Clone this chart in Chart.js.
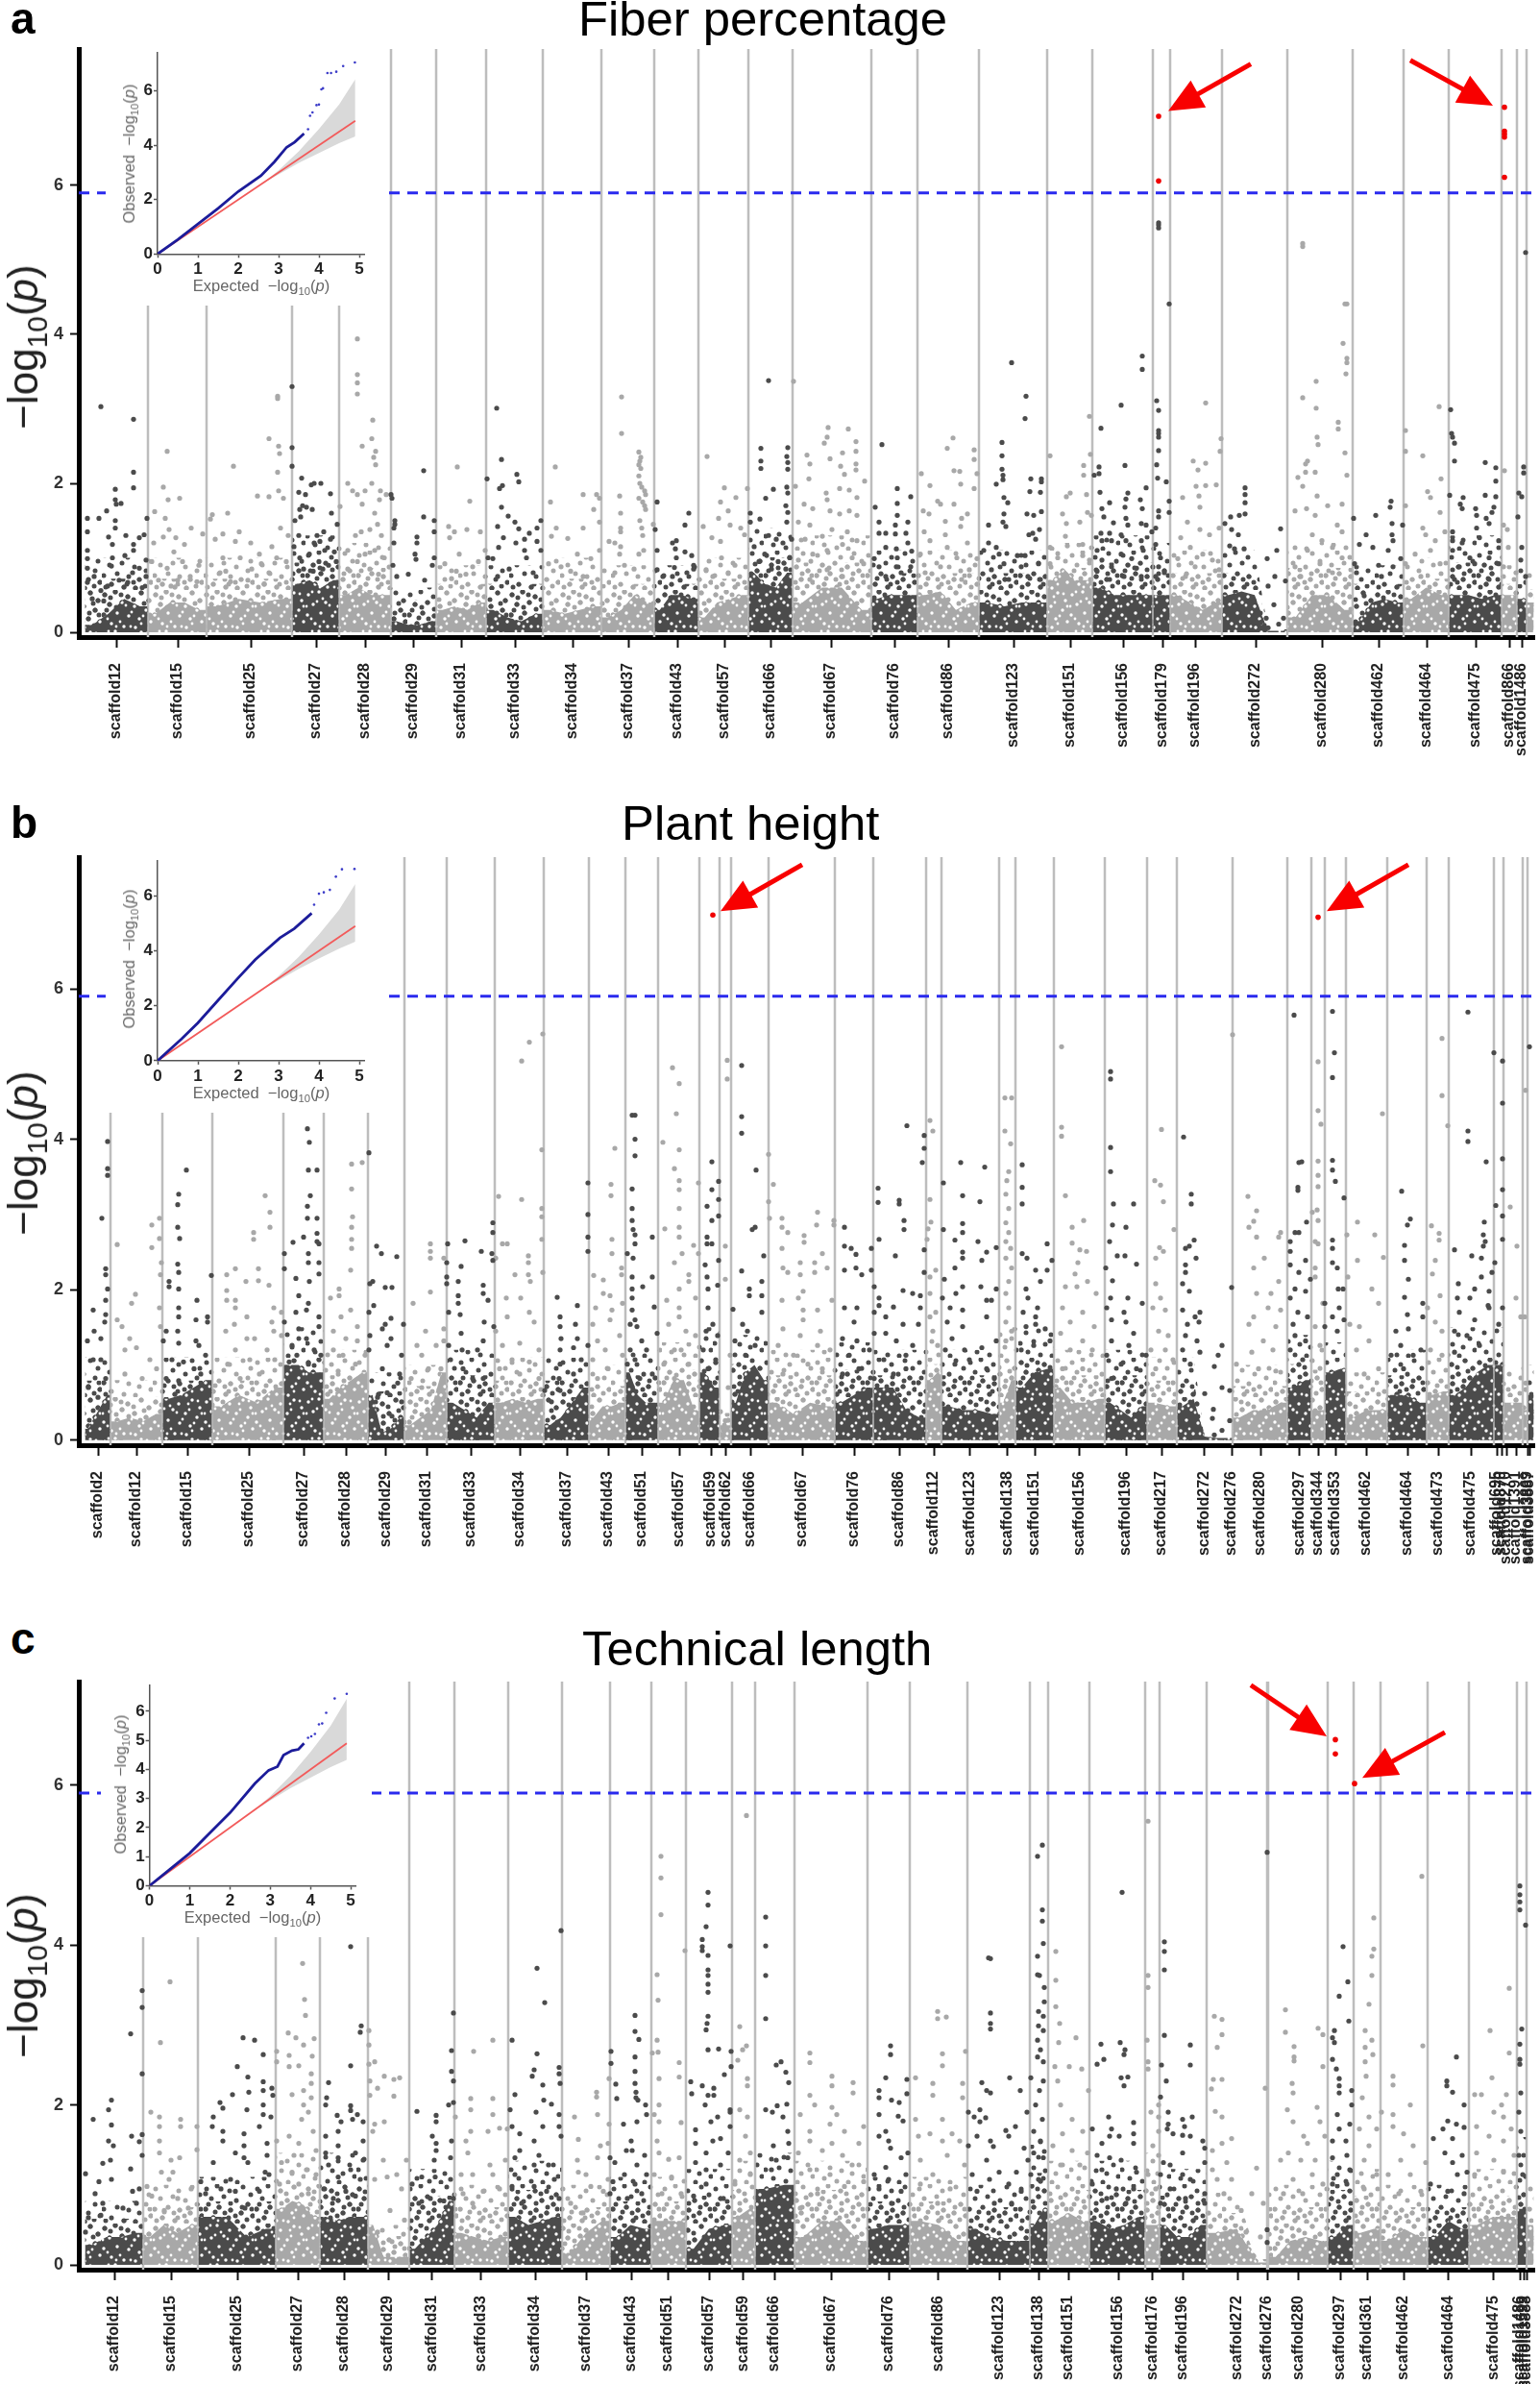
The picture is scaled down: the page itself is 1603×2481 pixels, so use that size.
<!DOCTYPE html>
<html>
<head>
<meta charset="utf-8">
<title>Manhattan plots</title>
<script src="https://cdn.jsdelivr.net/npm/chart.js@4"></script>
<style>
html, body { margin: 0; background: #fff; }
#page { position: relative; width: 1603px; height: 2481px; overflow: hidden; font-family: "Liberation Sans", Arial, sans-serif; }
#page canvas { position: absolute; }
.title { position: absolute; font-size: 50.8px; line-height: 50.8px; white-space: nowrap; color: #000; z-index: 3; }
.letter { position: absolute; left: 11px; font-size: 46px; line-height: 46px; font-weight: bold; z-index: 3; }
.ylab { position: absolute; font-size: 44px; line-height: 44px; white-space: nowrap; color: #222; transform: translate(-50%, -50%) rotate(-90deg); z-index: 3; }
.qq { position: absolute; font-size: 16.5px; line-height: 18px; white-space: nowrap; color: #666; transform: translate(-50%, -50%); z-index: 3; }
.qq.v { transform: translate(-50%, -50%) rotate(-90deg); }
sub { font-size: 68%; line-height: 0; }
</style>
</head>
<body>
<div id="page"></div>
<script>
// scaffold edges, shade (1 = dark), solid cloud height and loose cloud height per scaffold block
const edgesA = [88,154,215,304,353,407,454,506,565,626,681,727,779,825,907,955,1019,1090,1137,1200,1218,1272,1340,1408,1461,1508,1563,1579,1589,1597];
const shadeA = [1,0,0,1,0,1,0,1,0,0,1,0,1,0,1,0,1,0,1,1,0,1,0,1,0,1,0,1,0];
const cloudA = [[.1,.25,.45,.35],[.25,.4,.4,.3],[.35,.45,.4,.45],[.65,.7,.6,.7],[.5,.6,.5,.5],[.15,.1,.1,.15],[.3,.35,.3,.4],[.3,.2,.15,.25],[.3,.25,.3,.35],[.2,.3,.5,.4],[.3,.5,.5,.45],[.2,.4,.45,.5],[.8,.65,.6,.8],[.4,.6,.6,.3],[.45,.5,.5,.5],[.5,.55,.3,.4],[.4,.35,.4,.4],[.7,.85,.7,.7],[.6,.5,.5,.5],[.5],[.5,.4,.3,.4],[.5,.55,.5,.02,.02],[.2,.5,.5,.3],[.15,.4,.45,.4],[.45,.6,.5],[.5,.5,.45,.5],[.5],[.45],[.4]];
const looseA = [[1],[1],[1],[1.3],[1.2],[.6],[.9],[.9],[1],[.9],[.9],[1],[1.4],[1.3],[1.1],[1.1],[1.1],[1.2],[1.3],[1.2],[1.1],[1.1,1.1,1.1,.05,.05],[1.2],[.9],[1],[1.3],[.9],[.9],[.8]];
const tickPosA = [121,185,261,329,380,430,480,536,596,654,705,754,802,865,931,987,1055,1114,1169,1210,1244,1307,1376,1435,1485,1536,1571,1584];
const tickNamesA = ['scaffold12','scaffold15','scaffold25','scaffold27','scaffold28','scaffold29','scaffold31','scaffold33','scaffold34','scaffold37','scaffold43','scaffold57','scaffold66','scaffold67','scaffold76','scaffold86','scaffold123','scaffold151','scaffold156','scaffold179','scaffold196','scaffold272','scaffold280','scaffold462','scaffold464','scaffold475','scaffold866','scaffold1486'];
const hitsA = [1206,6.93, 1206,6.06, 1566,7.05, 1566,6.73, 1566,6.69, 1566,6.65, 1566,6.11];
const snpA = [
105,3.03,139,2.86,139,2.15,139,1.94,120,1.92,120,1.78,121,1.72,126,1.73,91,1.53,103,1.53,111,1.63,91,1.35,153,1.53,120,1.5,120,1.4,131,1.3,113,1.28,145,1.27,150,1.31,117,1.18,139,1.18,139,1.1,130,1.03,117,1,91,1.1,91,.99,152,.97,145,.86,116,.89,91,.86,98,.75,91,.67,105,.56,133,.67,152,.75,112,.62,124,.7,138,.8,148,.6,96,.45,108,.42,
174,2.43,170,1.95,175,1.78,187,1.8,161,1.62,172,1.53,199,1.4,176,1.38,170,1.28,183,1.27,192,1.18,160,1.2,181,1.08,190,.95,174,.86,207,.9,198,.75,165,.7,178,.62,205,.68,158,.95,185,.7,
243,2.23,280,2.6,290,2.5,291,2.4,289,2.15,268,1.83,280,1.82,295,1.8,237,1.6,221,1.58,219,1.52,249,1.35,232,1.32,224,1.25,211,1.32,261,1.2,245,1.22,232,1,250,1,270,1.05,283,1.15,292,1.4,290,1.9,272,.92,288,1,235,.82,262,.85,280,.8,229,.8,240,.68,258,.7,275,.65,298,.95,300,1.3,289,3.17,289,3.14,
304,3.3,304,2.48,304,2.23,314,2.07,324,1.98,327,2,334,2,344,1.86,311,1.88,318,1.85,315,1.7,312,1.65,319,1.68,325,1.65,345,1.6,307,1.5,313,1.55,351,1.45,337,1.35,330,1.3,311,1.3,344,1.25,327,1.2,333,1.22,338,1.1,322,1.05,348,1.08,306,1.15,312,1,332,.95,342,.9,350,.95,316,.85,326,.82,336,.85,
372,3.94,372,3.46,372,3.35,372,3.2,388,2.85,387,2.6,377,2.5,391,2.43,389,2.35,391,2.25,362,2,387,2,380,1.9,367,1.9,372,1.85,396,1.9,402,1.85,377,1.72,395,1.78,354,1.69,390,1.6,393,1.45,385,1.38,376,1.35,370,1.3,397,1.3,362,1.1,380,1.05,390,1.1,372,.95,385,.85,400,1,362,.85,394,.78,
407,1.85,408,1.8,411,1.45,411,1.5,410,1.4,410,1.2,441,2.17,441,1.55,434,1.28,452,1.5,452,1.35,434,1.2,432,1.05,433,.98,452,1,450,.9,425,.78,442,.7,409,.9,413,.75,
476,2.22,489,1.76,467,1.42,473,1.35,486,1.38,468,1.27,478,1.05,463,.92,492,.88,500,1.35,505,1.1,498,.95,475,.82,485,.78,470,.72,
517,3.01,522,2.32,507,2.06,538,2.12,540,2.02,520,1.93,523,1.97,522,1.68,529,1.56,536,1.48,518,1.42,540,1.39,563,1.5,559,1.4,551,1.33,546,1.25,524,1.27,519,1.14,537,1.2,559,1.22,546,1.1,563,1.1,508,1,513,.99,548,1,530,.85,555,.8,518,.75,
578,2.22,573,1.75,607,1.85,621,1.85,624,1.8,618,1.65,579,1.4,607,1.4,574,1.29,591,1.26,624,1.48,601,1.05,615,.99,624,1.1,571,.92,584,.88,594,.82,607,.75,
647,3.16,647,2.67,665,2.42,667,2.35,666,2.3,665,2.25,667,2.2,665,2.1,666,2,668,1.95,671,1.9,672,1.85,665,1.8,669,1.75,671,1.7,672,1.65,645,1.83,646,1.6,646,1.4,646,1.35,634,1.22,640,1.2,646,1.15,645,1.05,666,1.5,668,1.4,669,1.3,665,1.05,670,1.1,660,.85,650,.9,640,.8,680,1.45,
684,1.75,682,1.38,717,1.6,713,1.44,704,1.23,700,1.2,703,1.12,713,1.08,720,1.03,704,1,684,1.1,684,.84,702,.87,722,.9,722,.85,690,.75,708,.7,700,.75,715,.8,
736,2.36,754,1.94,750,1.75,766,1.81,758,1.63,732,1.42,748,1.53,760,1.44,771,1.4,778,1.93,741,1.27,750,1.22,775,1.31,751,1,735,.84,765,.9,758,.8,742,.75,
792,2.47,792,2.3,792,2.2,797,1.8,820,2.48,819,2.36,820,2.28,820,2.19,805,1.92,819,1.95,820,1.87,818,1.7,820,1.61,819,1.48,781,1.6,781,1.48,791,1.52,800,1.3,815,1.2,808,1.25,785,1.15,796,1.05,822,1,790,.95,810,.95,824,1.25,803,.85,818,.85,800,3.38,
826,3.37,862,2.75,883,2.73,861,2.62,858,2.54,891,2.56,891,2.43,840,2.38,877,2.41,864,2.33,843,2.26,875,2.23,891,2.26,891,2.18,879,2.12,842,2.06,900,2.03,828,1.96,874,1.93,884,1.91,860,1.87,861,1.78,892,1.81,837,1.72,846,1.66,864,1.63,884,1.63,874,1.59,892,1.57,831,1.48,843,1.44,866,1.38,882,1.35,892,1.23,856,1.29,838,1.25,877,1.18,861,1.1,846,1.05,887,1,831,.97,899,.92,861,.84,877,.75,843,.71,
918,2.52,934,1.93,948,1.82,934,1.73,911,1.68,934,1.57,915,1.48,945,1.48,932,1.44,915,1.33,922,1.33,932,1.32,943,1.33,945,1.2,922,1.14,933,1.12,949,1.09,910,.99,934,1,915,.88,933,.88,948,.88,922,.75,938,.8,
992,2.61,986,2.47,1014,2.45,993,2.17,999,2.16,1014,2.32,959,2.13,1017,2.13,1000,1.99,968,1.97,1014,1.93,976,1.76,979,1.72,993,1.72,961,1.63,967,1.59,984,1.49,1001,1.53,1007,1.59,962,1.35,1000,1.42,984,1.31,968,1.23,1007,1.2,986,1.14,958,1.05,996,1,1017,.99,979,.88,1009,.84,963,.8,1001,.71,
1068,3.17,1067,2.87,1043,2.55,1043,2.37,1043,2.19,1044,2.11,1044,2.05,1037,1.99,1073,2.06,1084,2.06,1084,2.02,1072,1.89,1083,1.88,1045,1.81,1049,1.74,1069,1.59,1045,1.59,1076,1.57,1084,1.62,1044,1.48,1047,1.42,1029,1.44,1082,1.38,1075,1.33,1071,1.31,1078,1.25,1029,1.2,1037,1.14,1040,1.05,1059,1.03,1067,1.03,1024,1.1,1045,.92,1081,.92,1063,.88,1032,.84,1070,.75,1050,.71,1083,.71,1053,3.62,
1134,2.9,1093,2.37,1135,2.39,1128,2.24,1128,2.11,1114,1.87,1110,1.82,1131,1.85,1132,1.61,1136,1.57,1106,1.59,1124,1.48,1110,1.46,1109,1.29,1127,1.18,1093,1.14,1111,1.16,1101,1,1127,1.03,1134,.97,1093,.92,
1167,3.05,1146,2.74,1171,2.24,1144,2.22,1144,2.13,1139,2.11,1193,1.94,1145,1.88,1174,1.87,1172,1.79,1187,1.78,1155,1.74,1171,1.68,1189,1.66,1147,1.66,1149,1.55,1172,1.53,1159,1.47,1174,1.44,1188,1.46,1193,1.44,1146,1.33,1155,1.33,1167,1.31,1199,1.35,1147,1.23,1157,1.23,1172,1.23,1188,1.23,1142,1.1,1167,1.05,1178,.99,1147,.97,1190,1.1,1157,.88,1183,.86,1142,.82,1170,.75,1155,.71,1188,.75,1189,3.71,1189,3.53,
1204,3.11,1206,2.98,1206,2.71,1206,2.67,1206,2.62,1206,2.44,1204,2.25,1205,2.07,1214,2.02,1217,1.76,1206,1.63,1206,1.55,1217,1.61,1203,1.4,1203,1.18,1208,1,1206,.88,1203,.75,1212,.8,1206,5.5,1206,5.47,1206,5.43,1217,4.41,
1255,3.08,1242,2.3,1255,2.27,1247,2.18,1245,1.96,1255,1.97,1266,1.98,1231,1.81,1248,1.83,1249,1.68,1270,2.43,1271,2.6,1236,1.48,1249,1.38,1229,1.27,1259,1.31,1269,1.4,1239,1.14,1252,1.05,1226,.99,1262,.97,1244,.88,1269,.84,1234,.75,
1296,1.94,1296,1.85,1296,1.74,1290,1.57,1296,1.59,1281,1.55,1275,1.46,1282,1.38,1289,1.31,1280,1.16,1285,1.12,1295,1.12,1333,1.39,1329,1.1,1319,.99,1327,.75,1320,.62,1338,.69,1305,.41,1326,.37,1318,.19,1331,.11,1312,.13,1336,.19,1320,.06,
1356,5.22,1356,5.18,1400,4.41,1402,4.41,1398,3.88,1402,3.68,1402,3.62,1401,3.47,1370,3.37,1356,3.15,1370,3.01,1393,2.82,1393,2.73,1371,2.62,1372,2.52,1400,2.41,1361,2.3,1359,2.26,1359,2.15,1369,2.15,1351,2.08,1402,2.11,1356,1.96,1371,1.83,1348,1.63,1360,1.66,1382,1.7,1397,1.72,1369,1.57,1392,1.44,1366,1.31,1397,1.35,1376,1.23,1348,.88,1361,1.1,1387,1.14,1374,.92,1397,1,1354,.75,1387,.8,
1409,1.53,1448,1.76,1447,1.68,1432,1.57,1449,1.46,1460,1.44,1422,1.31,1449,1.31,1415,1.18,1429,1.14,1450,1.23,1445,1.1,1458,.99,1410,.92,1435,.9,1450,.88,1412,.8,1438,.75,1420,.49,
1498,3.03,1463,2.71,1463,2.43,1481,2.37,1500,2.06,1486,1.89,1489,1.81,1463,1.7,1499,1.61,1481,1.4,1484,1.31,1494,1.23,1473,1.05,1489,1.1,1504,1.35,1463,.92,1499,.92,1479,.75,
1510,2.99,1511,2.67,1512,2.62,1514,2.54,1514,2.3,1546,2.28,1557,2.21,1557,2.03,1509,1.84,1523,1.81,1546,1.84,1557,1.82,1520,1.72,1522,1.66,1536,1.66,1555,1.68,1553,1.61,1537,1.57,1547,1.53,1550,1.46,1512,1.35,1537,1.4,1512,1.23,1522,1.2,1540,1.27,1560,1.23,1512,1.1,1530,1,1550,1,1519,.88,1535,.92,1560,.92,1514,.71,1550,.71,
1588,5.1,1566,2.17,1581,1.87,1584,1.82,1586,2.22,1586,2.14,1580,1.55,1565,1.44,1569,1.38,1570,1.14,1584,1.14,1583,.97,1565,.88,1578,.8,1588,.75
];

const edgesB = [88,115,169,221,295,337,383,421,465,515,566,613,651,685,728,749,761,800,869,909,964,980,1040,1057,1097,1150,1194,1225,1283,1340,1365,1379,1401,1444,1485,1508,1555,1565,1585,1590,1597];
const shadeB = [1,0,1,0,1,0,1,0,1,0,1,0,1,0,1,0,1,0,1,1,0,1,0,1,0,1,0,1,0,1,0,1,0,1,0,1,1,0,0,1];
const cloudB = [[.15,.3,.45,.6],[.25,.3,.25,.35],[.55,.6,.7,.8],[.45,.6,.5,.7],[1,1,.9,.9],[.55,.7,.8,.9],[.6,.1,.15,.3],[.2,.3,.4,.9],[.5,.4,.3,.5],[.5,.55,.5,.55],[.2,.3,.5,.7],[.3,.45,.45,.5],[.9,.6,.5,.5],[.5,.8,.8,.4],[.9,.7],[.2],[.5,.9,1,.8],[.5,.35,.5,.45],[.5,.6,.7],[.7,.7,.4,.3],[.8,.9],[.45,.4,.4,.35],[.5,.8],[.7,.9,.95],[.7,.5,.5,.55],[.5,.4,.3,.45],[.5,.45],[.45,.55,.05,.03,.03],[.3,.4,.4,.5],[.7,.8],[.4],[.9,.95],[.3,.4,.4],[.6,.6,.5],[.6,.65],[.6,.7,.9,1],[1],[.5,.5],[.4],[.6]];
const looseB = [[1.1],[.8],[1.1],[1.1],[1.5],[1.2],[.9],[1],[1.2],[1.1],[1.1],[1],[1.2],[1.3],[1.5],[.5],[1.4],[1.2],[1.3],[1.2],[1.4],[1.2],[1.5],[1.5],[1.2],[1.2],[1.1],[1.1,1.1,.05,.05,.05],[1],[1.4],[1.3],[1.3],[.9],[1.2],[1.1],[1.5],[1.5],[1],[.9],[1]];
const tickPosB = [102,142,195,259,316,360,401.5,444,490,541,590,633,668,707,740,755.6,781,835,889,936,972,1010,1048.5,1077,1123.5,1172,1209,1253.6,1282,1312,1352.5,1372,1390,1422,1465,1497,1531,1558,1563,1568,1578,1590,1592];
const tickNamesB = ['scaffold2','scaffold12','scaffold15','scaffold25','scaffold27','scaffold28','scaffold29','scaffold31','scaffold33','scaffold34','scaffold37','scaffold43','scaffold51','scaffold57','scaffold59','scaffold62','scaffold66','scaffold67','scaffold76','scaffold86','scaffold112','scaffold123','scaffold138','scaffold151','scaffold156','scaffold196','scaffold217','scaffold272','scaffold276','scaffold280','scaffold297','scaffold344','scaffold353','scaffold462','scaffold464','scaffold473','scaffold475','scaffold695','scaffold870','scaffold1270','scaffold1391','scaffold3869','scaffold3887'];
const hitsB = [742,6.98, 1372,6.95];
const snpB = [
112,3.97,112,3.61,112,3.52,106,2.95,110,2.28,110,2.2,112,2.01,110,1.86,97,1.73,110,1.67,109,1.57,98,1.45,105,1.35,91,1.32,97,1.07,105,1.07,110,.82,92,.7,102,.57,
122,2.6,141,1.94,137,1.82,122,1.6,127,1.51,135,1.35,130,1.2,142,1.23,158,2.86,166,2.95,166,2.68,158,2.56,168,2.36,167,2.2,166,1.76,167,1.51,156,1.07,130,.88,148,.82,163,.95,
194,3.59,186,3.27,185,3.13,185,2.83,187,2.68,185,2.34,186,2.23,186,2.01,176,2.11,176,2.04,220,2.19,205,1.86,186,1.76,186,1.64,216,1.64,216,1.57,204,1.6,173,1.45,185,1.45,170,1.32,186,1.29,204,1.32,207,1.26,214,1.13,179,1.07,191,1.04,202,.95,173,.82,209,.88,186,.79,
276,3.25,281,3.03,281,2.83,264,2.76,264,2.67,245,2.28,236,2.2,269,2.28,256,2.11,269,2.12,280,2.06,236,1.99,236,1.86,245,1.86,285,1.76,245,1.76,293,1.7,257,1.64,244,1.54,283,1.57,285,1.45,257,1.35,265,1.35,235,1.45,293,1.39,278,1.2,245,1.2,260,1.07,237,1.01,286,1.07,270,.88,250,.82,
320,4.14,322,3.96,321,3.59,330,3.59,323,3.25,320,3.11,320,2.95,330,2.95,316,2.7,330,2.75,305,2.63,330,2.64,296,2.48,321,2.48,332,2.61,321,2.36,332,2.36,296,2.28,332,2.21,308,2.15,322,2.11,311,1.92,321,1.82,319,1.73,308,1.7,332,1.64,296,1.57,311,1.48,332,1.51,319,1.35,304,1.26,327,1.2,309,1.13,334,1.13,301,1.04,321,1.01,
366,3.67,377,3.69,366,3.34,367,2.97,366,2.83,366,2.67,366,2.55,365,2.26,353,2.01,353,1.92,344,1.89,365,1.73,355,1.64,372,1.51,347,1.45,360,1.35,372,1.32,347,1.2,357,1.13,370,1.01,380,1.13,352,.92,
384,3.82,392,2.58,397,2.48,413,2.44,388,2.11,385,2.08,401,2.03,408,2.03,389,1.79,384,1.7,407,1.62,401,1.54,398,1.48,385,1.39,407,1.35,384,1.2,403,1.26,420,1.54,418,1.13,398,.95,416,.88,414,.76,403,.63,393,.57,418,.51,408,.32,
448,2.61,448,2.51,448,2.42,462,2.42,448,1.97,430,1.82,443,1.45,462,1.48,462,1.32,434,1.26,454,1.26,439,1.13,446,.95,428,.82,459,.95,439,.7,
484,2.65,466,2.61,465,2.36,480,2.31,465,2.17,465,2.08,477,2.11,477,1.92,477,1.82,467,1.7,479,1.67,503,2.06,503,1.95,508,1.86,501,2.51,513,2.39,513,2.89,513,2.76,512,2.48,514,1.51,504,1.57,480,1.42,467,1.26,481,1.2,503,1.32,469,1.07,482,.95,497,1.2,492,.82,503,.82,
565,5.4,551,5.29,543,5.04,564,3.86,543,3.2,519,3.24,564,3.08,564,2.97,564,2.67,523,2.61,528,2.61,550,2.45,550,2.36,516,2.42,536,2.2,550,2.2,552,2.11,565,2.23,527,1.89,542,1.89,551,1.7,556,1.57,528,1.64,516,1.45,541,1.29,523,1.26,561,1.2,533,1.07,551,1.04,520,.95,541,.88,561,.82,
580,1.9,601,1.79,583,1.64,583,1.51,599,1.54,584,1.35,601,1.35,583,1.2,597,1.23,612,1.26,583,1.01,605,1.07,582,.82,597,.88,567,.66,574,.51,583,.66,612,3.42,612,3,612,2.7,612,2.51,
640,3.88,636,3.4,636,3.25,637,2.67,637,2.48,618,2.19,628,2.13,647,2.29,647,2.2,628,1.95,635,1.92,648,1.82,620,1.76,637,1.73,617,1.54,635,1.6,622,1.32,645,1.39,630,1.2,617,1.07,648,1.13,633,.95,622,.82,
658,4.32,661,4.32,661,4,661,3.78,658,3.34,658,3.08,658,2.92,659,2.8,661,2.73,653,2.48,661,2.61,659,2.42,679,2.7,658,2.17,679,2.17,658,2.01,669,2.04,658,1.89,681,1.77,658,1.73,661,1.6,656,1.54,663,1.51,684,1.42,668,1.32,673,1.2,656,1.2,661,1.07,679,.88,666,.82,653,1.01,
700,4.95,707,4.74,704,4.34,707,3.86,702,3.61,707,3.45,707,3.33,690,3.96,727,3.42,707,3.08,707,2.83,692,2.81,707,2.7,710,2.48,722,2.59,727,2.48,702,2.36,717,2.2,707,2.01,717,2.11,694,1.86,707,1.76,724,1.89,696,1.54,707,1.64,714,1.45,724,1.39,702,1.2,709,1.2,691,1.01,717,1.01,702,.82,
741,3.7,741,3.33,736,3.11,741,2.92,736,2.7,736,2.61,741,2.61,748,3.2,748,3.44,748,2.98,734,2.33,736,2.17,748,2.39,737,2.01,747,2.06,737,1.76,735,1.45,742,1.54,747,1.39,732,1.2,745,1.07,737,.95,
757,5.05,757,4.8,755,2.58,755,2.14,760,1.13,758,.7,755,.26,753,.13,
772,4.98,772,4.3,772,4.08,787,3.59,786,2.83,783,2.8,795,2.45,772,2.25,793,2.11,780,2.01,780,1.92,793,1.92,763,1.74,793,1.7,773,1.54,778,1.45,765,1.32,786,1.26,776,1.13,
800,3.8,805,3.4,800,3.17,801,2.95,814,2.95,814,2.83,820,2.76,837,2.72,837,2.63,851,3.03,850,2.86,868,2.92,868,2.86,814,2.55,856,2.48,833,2.36,815,2.29,848,2.36,820,2.23,861,2.29,833,2.2,848,2.23,836,1.98,814,1.86,831,1.89,866,1.86,836,1.73,851,1.73,815,1.48,836,1.6,854,1.45,833,1.39,810,1.26,851,1.26,826,1.13,864,1.2,841,1.01,815,.88,856,.95,
944,4.18,914,3.35,914,3.16,936,3.19,936,3.14,879,2.83,941,2.92,941,2.8,915,2.67,879,2.58,886,2.55,907,2.55,891,2.47,932,2.45,879,2.26,891,2.29,907,2.26,897,2.2,910,2.04,940,1.99,950,1.95,958,1.92,915,1.89,915,1.79,930,1.77,879,1.76,892,1.76,958,1.76,910,1.7,889,1.57,922,1.64,940,1.54,956,1.54,877,1.35,910,1.42,922,1.42,892,1.32,933,1.32,950,1.26,884,1.13,905,1.2,943,1.13,920,1.07,894,.95,877,.88,943,.95,910,.82,930,.88,962,4.05,962,3.88,960,3.69,962,2.53,962,2.23,
968,4.25,971,4.11,968,3.2,969,2.9,966,2.81,965,2.67,974,2.26,968,2.17,968,1.95,974,1.7,968,1.64,971,1.45,976,1.26,
1000,3.69,1025,3.63,982,3.42,1002,3.25,1020,3.17,1002,2.88,982,2.8,1002,2.76,994,2.66,1018,2.64,1002,2.5,1002,2.42,1027,2.5,1037,2.56,1022,2.39,983,2.14,1002,2.04,994,2.29,1021,2.04,1037,2.01,995,1.95,1027,1.86,981,1.89,1002,1.73,989,1.76,1032,1.86,986,1.57,1002,1.51,1027,1.64,991,1.35,1004,1.2,1022,1.23,984,1.2,1037,1.32,1009,1.07,994,1.01,1027,.95,1035,.82,
1046,4.55,1053,4.55,1046,4.11,1052,3.94,1050,3.57,1048,3.45,1047,3.27,1050,3.08,1047,2.89,1050,2.76,1047,2.64,1052,2.55,1047,2.42,1053,2.29,1050,2.11,1047,1.95,1050,1.76,1047,1.57,1053,1.45,1047,1.32,
1064,3.66,1064,3.36,1064,3.14,1064,2.48,1069,2.42,1090,2.61,1095,2.39,1090,2.26,1078,2.26,1083,2.11,1068,2.01,1070,1.89,1080,1.76,1065,1.7,1078,1.64,1068,1.51,1078,1.54,1088,1.48,1063,1.2,1093,1.32,1076,1.26,
1105,5.23,1105,4.16,1105,4.04,1109,3.25,1128,2.92,1116,2.83,1116,2.62,1124,2.53,1131,2.51,1122,2.36,1119,2.21,1109,2.04,1121,2.04,1132,2.11,1141,1.95,1106,1.76,1127,1.7,1114,1.57,1139,1.51,1104,1.42,1127,1.32,1114,1.2,1137,1.2,1106,.95,1127,.95,
1156,4.9,1156,4.8,1156,3.89,1156,3.57,1159,3.14,1180,3.14,1158,2.86,1172,2.83,1155,2.64,1163,2.45,1171,2.45,1183,2.34,1151,2.29,1158,2.12,1156,1.89,1174,1.89,1189,1.82,1170,1.7,1152,1.76,1172,1.57,1157,1.6,1180,1.42,1157,1.32,1175,1.26,1193,1.13,1152,1.13,1167,1.01,1183,.95,1157,.82,
1209,4.13,1202,3.45,1208,3.39,1211,3.17,1222,2.8,1207,2.56,1203,2.42,1211,2.51,1203,2.08,1208,1.89,1200,1.76,1213,1.73,1206,1.45,1216,1.39,1198,1.2,1213,1.2,1221,1.07,1203,.95,
1232,4.03,1240,3.27,1240,3.14,1243,2.66,1234,2.55,1238,2.58,1245,2.42,1234,2.33,1234,2.23,1231,2.08,1238,1.98,1249,1.7,1231,1.73,1244,1.64,1236,1.54,1248,1.57,1234,1.39,1246,1.32,1231,1.2,1249,1.17,1239,1.01,1272,1.26,1268,1.13,1264,.98,1254,.62,1272,.7,1280,.66,1263,.41,1262,.29,1280,.26,1272,.13,1264,.07,1282,2.03,
1283,5.39,1299,3.24,1308,3.05,1305,2.91,1300,2.83,1308,2.7,1316,2.42,1305,2.29,1333,2.76,1331,2.7,1331,2.11,1323,1.95,1308,1.95,1333,1.73,1320,1.76,1305,1.64,1300,1.54,1328,1.51,1315,1.32,1303,1.17,1325,1.2,1287,1.01,1310,.95,1328,.92,
1347,5.65,1352,3.69,1355,3.7,1351,3.36,1351,3.32,1360,2.9,1348,2.76,1352,2.76,1343,2.64,1343,2.51,1359,2.39,1343,2.33,1352,2.23,1348,2.01,1343,1.89,1359,1.98,1364,2.14,1351,1.7,1361,1.64,1346,1.54,1348,1.39,1359,1.32,1343,1.2,1356,1.07,
1372,5.03,1372,4.38,1375,4.2,1372,3.71,1372,3.52,1372,3.37,1371,3.06,1366,3.03,1372,2.92,1369,2.64,1372,2.61,1369,2.29,1369,2.17,1377,1.82,1369,1.51,1374,1.26,
1387,5.7,1389,5.15,1387,4.82,1387,3.72,1387,3.59,1390,3.44,1399,3.22,1387,2.66,1387,2.55,1387,2.36,1392,2.29,1393,2.01,1398,2.01,1379,1.82,1394,1.76,1387,1.64,1399,1.6,1379,1.51,1392,1.45,
1439,4.34,1413,2.9,1402,2.73,1431,2.73,1413,2.39,1440,2.43,1403,2.17,1428,2.01,1435,1.82,1415,1.51,1405,1.54,1425,1.32,1412,1.2,1435,.95,1420,.88,
1459,3.31,1468,2.94,1465,2.86,1462,2.59,1462,2.39,1466,2.14,1462,1.9,1481,1.82,1465,1.67,1481,1.64,1453,1.45,1466,1.48,1479,1.2,1458,1.26,1448,1.13,1471,1.13,1461,.95,
1501,5.34,1501,4.58,1507,4.18,1490,2.85,1498,2.75,1498,2.66,1494,2.39,1491,2.21,1499,1.92,1486,1.76,1494,1.57,1501,1.45,1489,1.2,1501,1.13,
1528,5.69,1528,4.11,1528,3.97,1547,3.7,1545,2.9,1544,2.73,1546,2.64,1544,2.58,1514,2.53,1532,2.45,1542,2.42,1553,2.23,1542,2.17,1518,2.08,1535,2.01,1550,1.98,1517,1.89,1530,1.89,1549,1.79,1519,1.7,1535,1.6,1514,1.45,1527,1.39,1550,1.76,1540,1.26,1514,1.17,
1555,5.15,1564,5.04,1564,4.48,1564,3.74,1564,3.33,1557,3.12,1564,2.98,1564,2.67,1556,2.36,1564,1.76,1560,1.54,1592,5.23,1588,4.65,1572,3.1,1579,2.58,1587,1.64,1578,1.89,1583,1.64,1588,.76
];

const edgesC = [88,149,206,287,333,383,426,473,529,585,635,678,714,762,786,827,903,947,1007,1072,1091,1134,1192,1207,1256,1319,1320,1382,1409,1437,1486,1529,1579,1589,1597];
const shadeC = [1,0,1,0,1,0,1,0,1,0,1,0,1,0,1,0,1,0,1,1,0,1,0,1,0,1,0,1,0,0,1,0,1,0];
const cloudC = [[.25,.35,.35,.4],[.35,.5,.4,.5],[.6,.6,.35,.45],[.7,.8,.75,.6],[.6,.55,.6,.6],[.5,.1,.1,.1],[.2,.35,.5,.8],[.4,.35,.3,.35],[.6,.5,.55,.6],[.15,.4,.55],[.35,.5,.45],[.55,.55],[.2,.45,.5],[.6,.7],[.95,1],[.35,.55,.55,.3],[.45,.5,.5],[.55,.5,.3],[.45,.35,.3,.3],[.5,.7],[.55,.65,.55],[.55,.45,.5,.6],[.5],[.5,.35,.35,.5],[.4,.45,.03],[0],[.1,.3,.35,.3],[.35,.5],[.4,.45],[.3,.45,.35],[.35,.55,.45],[.5,.6,.6],[.7],[.5]];
const looseC = [[.8],[1],[1.1],[1.4],[1.4],[.5],[1.2],[1],[1.3],[1],[1.1],[1.1],[1.2],[1.3],[1.4],[1.3],[1.1],[1.1],[1],[1.6],[1.3],[1.3],[1.4],[1.2],[.9,.9,.1],[0],[1],[1.3],[1.2],[1],[1],[1.2],[1.6],[1]];
const tickPosC = [119,178,247,310,358,404,449.5,500.5,557,610,657,695,738,773.5,806,865,925,976.5,1040,1081,1112,1164,1199.5,1231,1288,1319,1351.5,1395,1423,1461,1507.6,1554.6,1582,1586,1589];
const tickNamesC = ['scaffold12','scaffold15','scaffold25','scaffold27','scaffold28','scaffold29','scaffold31','scaffold33','scaffold34','scaffold37','scaffold43','scaffold51','scaffold57','scaffold59','scaffold66','scaffold67','scaffold76','scaffold86','scaffold123','scaffold138','scaffold151','scaffold156','scaffold176','scaffold196','scaffold272','scaffold276','scaffold280','scaffold297','scaffold361','scaffold462','scaffold464','scaffold475','scaffold1486','scaffold1599','scaffold3888'];
const hitsC = [1390,6.57, 1390,6.39, 1410,6.02];
const snpC = [
148,3.43,148,3.22,136,2.89,148,2.39,116,2.06,113,1.94,97,1.82,116,1.75,137,1.61,148,1.63,113,1.55,118,1.49,145,1.54,148,1.37,107,1.27,115,1.31,136,1.2,89,1.14,103,1.04,116,1.07,99,.89,138,.92,145,.95,107,.77,92,.59,128,.71,142,.77,105,.62,89,.41,
177,3.54,167,2.78,157,1.91,166,1.85,188,1.82,188,1.73,166,1.73,205,1.73,166,1.55,166,1.4,205,1.44,178,1.31,187,1.34,168,1.16,180,1.16,153,.98,176,1.07,199,.95,158,.86,185,.83,171,.68,196,.71,
253,2.84,265,2.81,274,2.63,247,2.48,258,2.35,274,2.29,283,2.21,284,2.12,259,2.16,274,2.18,242,2.13,229,2.03,232,1.96,257,1.94,222,1.85,221,1.73,274,2,274,1.88,282,1.85,270,1.73,232,1.67,254,1.64,232,1.55,254,1.49,278,1.52,245,1.4,254,1.34,278,1.37,222,1.28,258,1.28,276,1.16,209,1.04,240,1.07,280,1.13,230,.95,245,.92,214,.89,270,.92,255,.71,
315,3.77,317,3.32,318,3.12,300,2.9,308,2.84,327,2.83,316,2.75,288,2.67,301,2.62,325,2.61,288,2.54,301,2.48,311,2.49,324,2.39,324,2.27,304,2.13,316,2.18,324,2.09,316,2,321,1.91,314,1.82,326,1.67,301,1.61,288,1.55,311,1.52,329,1.43,306,1.37,293,1.28,319,1.19,304,1.16,329,1.13,291,1.01,311,1.01,321,.89,
365,3.98,376,2.99,375,2.91,365,2.49,342,2.28,340,2.09,339,2,365,1.99,365,1.93,372,1.88,351,1.87,355,1.79,367,1.82,378,1.79,339,1.61,352,1.67,378,1.55,352,1.49,339,1.4,370,1.4,352,1.34,378,1.31,342,1.25,365,1.19,352,1.1,375,1.07,337,.95,360,.92,370,.86,347,.83,
384,2.93,384,2.75,390,2.54,384,2.51,400,2.36,416,2.34,410,2.32,385,2.3,393,2.21,410,2.11,385,2.12,400,1.79,390,1.76,388,1.67,399,1.31,423,1.31,413,1.13,403,1.1,418,.95,390,1.07,406,.68,421,.56,393,.41,408,.29,
434,1.92,454,1.87,454,1.79,472,3.15,470,2.68,470,2.42,472,2.3,472,2.03,467,2,450,1.61,454,1.52,454,1.43,470,1.55,452,1.31,469,1.34,429,1.01,439,1.1,453,1.1,469,1.07,448,.83,436,.77,462,.8,472,.83,
490,2.08,493,2.67,513,2.81,513,2.08,490,1.94,513,1.88,474,1.85,520,1.71,490,1.67,528,1.7,485,1.55,508,1.67,487,1.4,510,1.25,526,1.31,480,1.13,492,1.13,513,1.13,503,.92,482,.89,520,.95,492,.77,
584,4.18,559,3.71,567,3.28,533,2.81,559,2.64,556,2.44,554,2.36,582,2.47,582,2.39,565,2.25,583,2.27,536,2.13,566,2.06,574,2.01,531,1.94,558,1.91,582,1.88,533,1.73,565,1.73,582,1.73,541,1.64,584,1.61,556,1.55,541,1.43,536,1.34,561,1.37,556,1.25,571,1.25,536,1.13,577,1.07,556,.98,533,.98,569,.92,582,.83,543,.77,
598,1.85,602,1.57,625,1.49,634,2.33,621,2.16,621,2.1,622,1.88,634,1.76,601,1.31,622,1.34,633,1.52,602,1.16,610,1.13,615,.98,628,.92,594,.77,607,.65,633,1.07,
661,3.12,661,2.92,665,2.82,636,2.67,636,2.52,661,2.6,661,2.42,661,2.27,641,2.26,662,2.16,662,2.09,642,2.08,672,2,673,1.88,664,2.06,649,1.76,663,1.79,657,1.55,652,1.43,658,1.43,635,1.34,671,1.37,640,1.28,663,1.25,650,1.13,673,1.13,638,1.04,661,1.01,635,.89,653,.83,668,.89,
688,5.11,688,4.84,688,4.38,713,3.93,684,3.63,685,3.31,684,2.81,685,2.66,679,2.65,707,2.53,707,2.35,686,2.33,686,2,681,1.88,686,1.79,709,1.78,684,1.55,686,1.4,696,1.32,707,1.34,681,1.13,699,1.1,709,.89,689,.89,
737,4.66,737,4.5,735,4.23,731,4.07,731,3.98,731,3.93,737,3.87,760,3.99,737,3.69,737,3.62,737,3.51,737,3.41,737,3.11,736,3.02,735,2.94,737,2.69,748,2.7,761,2.67,761,2.48,754,2.38,719,2.29,731,2.24,743,2.21,720,2.14,737,2.12,743,2.12,734,2,760,1.94,760,1.91,747,1.85,740,1.79,724,1.69,760,1.73,742,1.55,724,1.52,750,1.58,735,1.4,758,1.4,724,1.28,735,1.19,750,1.25,722,.86,735,1.01,753,.83,
777,5.62,770,2.98,777,2.74,773,2.69,768,2.56,778,2.33,778,2.24,770,1.94,778,1.85,776,1.61,781,1.4,770,1.31,781,1.13,765,1.01,
797,4.35,797,3.99,797,3.62,797,3.08,797,1.94,808,2.5,813,2.54,818,2.41,821,2.28,809,1.99,804,1.91,819,2.01,815,1.85,820,1.67,805,1.49,821,1.52,808,1.31,820,1.34,803,1.19,
843,2.65,843,2.53,866,2.36,866,2.24,888,2.28,888,2.15,843,2.12,848,2,866,1.97,833,1.88,871,1.88,843,1.67,864,1.76,879,1.67,843,1.55,866,1.52,894,1.52,831,1.4,856,1.43,877,1.37,899,1.73,843,1.19,864,1.13,887,1.25,879,.98,851,.89,899,1.04,833,.71,
927,2.74,927,2.63,922,2.34,944,2.32,915,2.18,915,2.09,944,2.14,928,2.06,936,2.03,915,1.88,935,1.86,940,1.8,922,1.67,915,1.61,925,1.55,927,1.46,945,1.4,922,1.22,938,1.34,910,1.13,925,1.07,943,1.13,915,.95,938,.92,928,.77,
976,3.17,976,3.08,985,3.1,1005,2.67,981,2.64,981,2.49,953,2.34,971,2.27,1002,2.27,971,2.12,1002,2.09,953,1.82,981,1.82,968,1.64,956,1.61,991,1.64,999,1.55,981,1.55,958,1.31,986,1.37,1004,1.25,971,1.13,958,1.01,989,.95,976,.77,
1029,3.84,1031,3.83,1031,3.15,1031,3.02,1031,2.95,1022,2.28,1051,2.34,1027,2.18,1031,2.15,1062,2.18,1020,1.94,1008,1.91,1069,1.91,1014,1.85,1026,1.84,1020,1.79,1047,1.68,1057,1.73,1017,1.61,1050,1.61,1031,1.55,1008,1.49,1034,1.48,1066,1.46,1027,1.31,1070,1.31,1040,1.16,1012,1.13,1058,1.16,1030,1.07,1050,1.01,1017,.92,1063,.92,1035,.77,1053,.77,
1085,5.25,1080,5.11,1085,4.44,1085,4.3,1086,4.02,1080,3.86,1080,3.63,1082,3.62,1087,3.47,1087,3.29,1081,3.17,1086,3.11,1081,2.99,1086,2.93,1080,2.81,1083,2.69,1080,2.6,1086,2.54,1073,2.34,1086,2.3,1082,2.18,1078,2,1085,1.82,1076,1.67,1083,1.55,1076,1.4,1086,1.34,1073,1.13,1081,1.07,
1099,3.92,1099,3.56,1099,3.23,1103,3.02,1102,2.78,1120,2.84,1098,2.48,1113,2.48,1126,2.45,1101,2.3,1133,2.18,1104,2,1116,1.82,1106,1.64,1127,1.67,1096,1.49,1116,1.43,1132,1.4,1104,1.25,1124,1.25,
1168,4.66,1146,2.76,1166,2.78,1171,2.69,1170,2.63,1149,2.57,1142,2.51,1167,2.34,1174,2.35,1170,2.24,1154,1.85,1137,1.7,1157,1.7,1180,1.78,1155,1.61,1180,1.64,1165,1.61,1147,1.52,1180,1.52,1142,1.37,1155,1.34,1167,1.31,1183,1.16,1147,1.19,1137,1.01,1162,.95,1180,.95,1152,.83,1172,.77,
1195,5.55,1195,3.62,1195,3.47,1194,2.81,1195,2.54,1195,2.45,1206,2,1198,1.91,1206,1.85,1206,1.67,1200,1.49,1206,1.37,1195,1.13,1203,.95,
1212,4.04,1212,3.92,1212,3.69,1212,2.87,1239,2.75,1209,2.5,1239,2.5,1214,2.3,1208,2.1,1216,1.91,1241,1.85,1231,1.82,1216,1.76,1215,1.7,1233,1.73,1221,1.64,1231,1.62,1239,1.61,1231,1.4,1252,1.55,1254,1.46,1254,1.28,1211,1.28,1218,1.25,1231,1.13,1239,1.07,1208,1.13,1218,.95,1234,.83,1254,.89,1254,.77,1208,.77,
1264,3.11,1272,3.07,1272,2.88,1267,2.72,1263,2.32,1272,2.32,1261,2.2,1265,1.92,1272,1.85,1282,1.58,1272,1.52,1262,1.43,1277,1.28,1262,1.19,1282,1.07,1267,1.07,1274,.89,1292,.68,1308,1.21,1303,.89,1315,.77,1297,.41,1312,.35,1297,.23,1305,.11,1317,2.21,
1319,5.16,1319,.44,1319,.28,
1338,3.19,1338,2.91,1347,2.73,1347,2.6,1347,2.55,1345,2.27,1346,2.15,1372,2.96,1377,2.88,1377,2.48,1340,1.94,1371,1.97,1346,1.79,1357,1.61,1374,1.79,1341,1.4,1361,1.52,1379,1.61,1333,1.31,1354,1.31,1369,1.31,1346,1.07,1366,1.13,1377,1.01,1336,.89,1356,.89,
1398,3.98,1403,3.54,1394,3.36,1404,3.05,1389,2.93,1387,2.84,1389,2.78,1387,2.57,1391,2.45,1394,2.33,1394,2.24,1407,2.18,1394,2.15,1407,2,1392,1.88,1405,1.76,1394,1.7,1387,1.55,1401,1.55,1402,1.37,1387,1.34,1392,1.13,1405,1.19,1387,1.01,1402,1.01,
1430,4.34,1430,3.95,1428,3.86,1428,3.62,1425,3.26,1421,2.93,1428,2.81,1421,2.72,1421,2.54,1429,2.63,1422,2.36,1418,2.09,1438,1.91,1425,1.85,1415,1.7,1433,1.7,1425,1.49,1420,1.31,1433,1.13,1420,.95,
1480,4.86,1481,2.74,1450,2.36,1450,2.25,1468,2,1450,1.88,1450,1.73,1461,1.64,1471,1.49,1458,1.31,1484,1.28,1445,1.13,1468,1.13,1479,.92,1456,.89,
1516,2.6,1506,2.3,1506,2.24,1512,2.16,1524,2,1507,1.8,1516,1.76,1502,1.7,1524,1.72,1492,1.58,1512,1.58,1504,1.4,1512,1.28,1522,1.37,1517,1.13,1527,1.16,1489,1.01,1507,.92,1524,.89,
1571,3.46,1551,2.93,1571,2.65,1553,2.34,1535,2.13,1542,2.13,1568,2.13,1563,2,1555,1.91,1565,1.85,1537,1.73,1573,1.7,1550,1.61,1565,1.55,1537,1.4,1576,1.37,1555,1.31,1535,1.13,1565,1.16,
1582,4.74,1582,4.63,1582,4.54,1582,4.44,1588,4.25,1584,2.95,1582,2.76,1582,2.57,1582,2.51,1583,2.15,1581,1.91,1583,1.67,1581,1.37,1585,1.13
];

// QQ insets: observed curve, tail points, confidence band
const qqLineA = [[0,0],[.5,.53],[1,1.1],[1.5,1.68],[2,2.3],[2.56,2.88],[2.9,3.4],[3.2,3.93],[3.4,4.12],[3.63,4.43]];
const qqTailA = [3.73,4.59,3.78,5.09,3.84,5.21,3.94,5.48,4,5.5,4.06,6.06,4.1,6.1,4.21,6.66,4.3,6.66,4.43,6.71,4.6,6.92,4.89,7.05];
const qqLineB = [[0,0],[.6,.8],[1,1.38],[1.5,2.2],[2,3.02],[2.42,3.68],[3.03,4.47],[3.39,4.81],[3.82,5.37]];
const qqTailB = [3.88,5.68,4,6.08,4.12,6.13,4.27,6.22,4.42,6.7,4.57,6.97,4.88,6.98];
const qqLineC = [[0,0],[.5,.56],[1,1.12],[1.5,1.82],[2,2.51],[2.62,3.52],[2.96,3.97],[3.18,4.1],[3.33,4.49],[3.54,4.65],[3.7,4.69],[3.84,4.9]];
const qqTailC = [3.94,5.09,4.02,5.14,4.11,5.22,4.21,5.55,4.29,5.58,4.39,5.95,4.6,6.44,4.9,6.6];
const bandX = [2.7,3,3.5,4,4.5,4.9];
const bandUpper = [2.72,3.08,3.78,4.6,5.5,6.43];
const bandLower = [2.68,2.93,3.35,3.72,4.08,4.33];

const THRESHOLD = 5.9;
const FONT = '"Liberation Sans", Arial, sans-serif';
const page = document.getElementById('page');

// speckle tiles for the cloud of points too dense to list one by one
const SPECK_A = [[3,5],[14,2],[27,7],[41,3],[49,11],[8,15],[21,13],[34,17],[46,21],[2,26],[16,24],[28,27],[39,30],[51,33],[10,35],[23,38],[35,39]];
const SPECK_B = [[9,8],[20,5],[33,10],[44,14],[15,18],[28,20],[40,24],[5,21],[22,30],[12,29],[33,33],[45,37],[4,38],[50,26],[26,35]];
const SPECK_C = [[7,2],[18,9],[37,7],[47,4],[12,12],[25,16],[38,13],[51,17],[6,30],[19,33],[31,23],[43,27],[1,17],[30,38],[41,35],[15,38]];

function tilePattern(paint) {
    const tile = document.createElement('canvas');
    tile.width = 53; tile.height = 41;
    const c = tile.getContext('2d');
    paint(c);
    return c.createPattern(tile, 'repeat');
}
function dots(c, list, color, r) {
    c.fillStyle = color;
    list.forEach(p => { c.beginPath(); c.arc(p[0], p[1], r, 0, 7); c.fill(); });
}
function solidFill(color) {
    return tilePattern(c => {
        c.fillStyle = color; c.fillRect(0, 0, 53, 41);
        dots(c, SPECK_A, '#fff', 1.7);
        dots(c, SPECK_C, '#fff', 1.4);
    });
}
function midFill(color) {
    return tilePattern(c => { dots(c, SPECK_A, color, 2.5); dots(c, SPECK_B, color, 2.5); });
}
function looseFill(color) {
    return tilePattern(c => dots(c, SPECK_A, color, 2.5));
}

const DARK = '#4b4b4b', LIGHT = '#a8a8a8';
const fills = {
    solid: [solidFill(LIGHT), solidFill(DARK)],
    mid: [midFill(LIGHT), midFill(DARK)],
    loose: [looseFill(LIGHT), looseFill(DARK)]
};

function addCanvas(left, top, w, h, z) {
    const cv = document.createElement('canvas');
    cv.width = Math.round(w); cv.height = Math.round(h);
    cv.style.cssText = `left:${left}px;top:${top}px;width:${Math.round(w)}px;height:${Math.round(h)}px;z-index:${z}`;
    page.appendChild(cv);
    return cv;
}

function addText(cls, html, style) {
    const d = document.createElement('div');
    d.className = cls;
    d.innerHTML = html;
    d.style.cssText = style;
    page.appendChild(d);
}

const arrowPlugin = {
    id: 'arrows',
    afterDatasetsDraw(chart, args, opts) {
        const ctx = chart.ctx, sx = chart.scales.x, sy = chart.scales.y;
        opts.list.forEach(a => {
            const x0 = sx.getPixelForValue(a[0]), y0 = sy.getPixelForValue(a[1]);
            const x1 = sx.getPixelForValue(a[2]), y1 = sy.getPixelForValue(a[3]);
            const ang = Math.atan2(y1 - y0, x1 - x0);
            ctx.save();
            ctx.strokeStyle = ctx.fillStyle = '#f80000';
            ctx.lineWidth = 5;
            ctx.beginPath();
            ctx.moveTo(x0, y0);
            ctx.lineTo(x1 - 30 * Math.cos(ang), y1 - 30 * Math.sin(ang));
            ctx.stroke();
            ctx.translate(x1, y1);
            ctx.rotate(ang);
            ctx.beginPath();
            ctx.moveTo(0, 0); ctx.lineTo(-36, -16); ctx.lineTo(-36, 16);
            ctx.closePath(); ctx.fill();
            ctx.restore();
        });
    }
};

function panel(p) {
    const cv = addCanvas(0, p.canvasTop, 1603, p.canvasH, 1);
    const yMin = (p.y0 - p.base) / p.unit, yMax = (p.y0 - p.top) / p.unit;
    const shadeOf = x => {
        let i = p.edges.length - 2;
        while (i > 0 && x < p.edges[i]) i--;
        return p.shade[i];
    };
    const dark = [], light = [];
    for (let i = 0; i < p.snp.length; i += 2) {
        const pt = { x: p.snp[i], y: p.snp[i + 1] };
        (shadeOf(pt.x) ? dark : light).push(pt);
    }
    const guide = [];
    p.edges.slice(1, -1).forEach(e => {
        guide.push({ x: e, y: yMin }, { x: e, y: yMax }, { x: NaN, y: NaN });
    });
    const hits = [];
    for (let i = 0; i < p.hits.length; i += 2) hits.push({ x: p.hits[i], y: p.hits[i + 1] });

    const datasets = [
        { data: guide, showLine: true, pointRadius: 0, borderColor: '#bdbdbd', borderWidth: 2.5, order: 9 },
        { data: dark, pointRadius: 2.6, pointBorderWidth: 0, backgroundColor: DARK, order: 6 },
        { data: light, pointRadius: 2.6, pointBorderWidth: 0, backgroundColor: LIGHT, order: 7 },
        { data: [{ x: 82, y: THRESHOLD }, { x: 1597, y: THRESHOLD }], showLine: true, pointRadius: 0, borderColor: '#2a2aee', borderWidth: 3, borderDash: [11, 8], order: 3 },
        { data: hits, pointRadius: 2.8, pointBorderWidth: 0, backgroundColor: '#f00000', order: 2 }
    ];
    const addCloud = (i, heights, fill, order) => {
        const lo = p.edges[i], hi = p.edges[i + 1], n = heights.length;
        const outline = [{ x: lo + .5, y: heights[0] }];
        heights.forEach((h, k) => outline.push({ x: lo + (hi - lo) * (k + .5) / n, y: h }));
        outline.push({ x: hi - .5, y: heights[n - 1] });
        datasets.push({
            data: outline, showLine: true, pointRadius: 0, borderWidth: 0, fill: 'origin',
            backgroundColor: fill[p.shade[i]], order
        });
    };
    p.cloud.forEach((heights, i) => {
        addCloud(i, p.loose[i], fills.loose, 8.3);
        addCloud(i, p.loose[i].map(h => h * .72), fills.mid, 8.2);
        addCloud(i, heights, fills.solid, 8.1);
    });

    new Chart(cv, {
        type: 'scatter',
        data: { datasets },
        plugins: [arrowPlugin],
        options: {
            responsive: false,
            animation: false,
            events: [],
            layout: { padding: { left: 0, right: 6, top: p.top - p.canvasTop, bottom: 0 } },
            plugins: { legend: { display: false }, tooltip: { enabled: false }, arrows: { list: p.arrows } },
            scales: {
                x: {
                    type: 'linear', min: 82, max: 1597,
                    border: { color: '#000', width: 5 },
                    grid: { drawOnChartArea: false, tickLength: 11, tickColor: '#111', tickWidth: 2 },
                    ticks: {
                        autoSkip: false, minRotation: 90, maxRotation: 90, padding: 16,
                        color: '#222', font: { family: FONT, size: 16, weight: 'bold' },
                        callback: v => p.tickNames[p.tickPos.indexOf(v)]
                    },
                    afterBuildTicks: s => { s.ticks = p.tickPos.map(v => ({ value: v })); },
                    afterFit: s => { s.height = p.canvasTop + p.canvasH - p.base; s.paddingLeft = 0; s.paddingRight = 0; }
                },
                y: {
                    min: yMin, max: yMax,
                    border: { color: '#000', width: 5 },
                    grid: { drawOnChartArea: false, tickLength: 9, tickColor: '#111', tickWidth: 2 },
                    ticks: { padding: 7, color: '#333', font: { family: FONT, size: 18, weight: 'bold' } },
                    afterBuildTicks: s => { s.ticks = [0, 2, 4, 6].map(v => ({ value: v })); },
                    afterFit: s => { s.width = 82; s.paddingTop = 0; s.paddingBottom = 0; }
                }
            }
        }
    });
}

const whiteBack = {
    id: 'whiteBack',
    beforeDraw(chart) {
        chart.ctx.save();
        chart.ctx.fillStyle = '#fff';
        chart.ctx.fillRect(0, 0, chart.width, chart.height);
        chart.ctx.restore();
    }
};

function inset(q) {
    const w = q.right - q.left, h = q.bottom - q.top;
    const cv = addCanvas(q.left, q.top, w, h, 2);
    const xy = a => { const o = []; for (let i = 0; i < a.length; i += 2) o.push({ x: a[i], y: a[i + 1] }); return o; };
    new Chart(cv, {
        type: 'scatter',
        plugins: [whiteBack],
        data: {
            datasets: [
                { data: bandX.map((x, i) => ({ x, y: bandUpper[i] })), showLine: true, pointRadius: 0, borderWidth: 0, fill: '+1', backgroundColor: '#d9d9d9', order: 5 },
                { data: bandX.map((x, i) => ({ x, y: bandLower[i] })), showLine: true, pointRadius: 0, borderWidth: 0, order: 5 },
                { data: [{ x: 0, y: 0 }, { x: 4.9, y: 4.9 }], showLine: true, pointRadius: 0, borderColor: '#f25a5a', borderWidth: 1.8, order: 3 },
                { data: q.line.map(r => ({ x: r[0], y: r[1] })), showLine: true, pointRadius: 0, borderColor: '#1c1c9a', borderWidth: 2.8, order: 2 },
                { data: xy(q.tail), pointRadius: 1.3, pointBorderWidth: 0, backgroundColor: '#3c3cc8', order: 1 }
            ]
        },
        options: {
            responsive: false,
            animation: false,
            events: [],
            layout: { padding: { left: 0, right: q.right - q.axisRight, top: q.axisTop - q.top, bottom: 0 } },
            plugins: { legend: { display: false }, tooltip: { enabled: false } },
            scales: {
                x: {
                    type: 'linear', min: 0, max: (q.axisRight - q.x0) / q.xUnit,
                    border: { color: '#555', width: 1.5 },
                    grid: { drawOnChartArea: false, tickLength: 4, tickColor: '#555', tickWidth: 1.5 },
                    ticks: { padding: 2, color: '#222', font: { family: FONT, size: 17, weight: 'bold' } },
                    afterBuildTicks: s => { s.ticks = [0, 1, 2, 3, 4, 5].map(v => ({ value: v })); },
                    afterFit: s => { s.height = q.bottom - q.y0; s.paddingLeft = 0; s.paddingRight = 0; }
                },
                y: {
                    min: 0, max: (q.y0 - q.axisTop) / q.yUnit,
                    border: { color: '#555', width: 1.5 },
                    grid: { drawOnChartArea: false, tickLength: 4, tickColor: '#555', tickWidth: 1.5 },
                    ticks: { padding: 1, color: '#222', font: { family: FONT, size: 17, weight: 'bold' } },
                    afterBuildTicks: s => { s.ticks = q.yTicks.map(v => ({ value: v })); },
                    afterFit: s => { s.width = q.x0 - q.left; s.paddingTop = 0; s.paddingBottom = 0; }
                }
            }
        }
    });
}

const LOGP = '&minus;log<sub>10</sub>(<i>p</i>)';

panel({ snp: snpA, hits: hitsA, edges: edgesA, shade: shadeA, cloud: cloudA, loose: looseA, tickPos: tickPosA, tickNames: tickNamesA,
    canvasTop: 40, canvasH: 790, top: 51, base: 663, y0: 658, unit: 77.5,
    arrows: [[1302, 7.63, 1216, 7.0], [1468, 7.68, 1554, 7.07]] });
panel({ snp: snpB, hits: hitsB, edges: edgesB, shade: shadeB, cloud: cloudB, loose: looseB, tickPos: tickPosB, tickNames: tickNamesB,
    canvasTop: 880, canvasH: 760, top: 892, base: 1504, y0: 1498.8, unit: 78.3,
    arrows: [[835, 7.65, 750, 7.03], [1466, 7.65, 1381, 7.03]] });
panel({ snp: snpC, hits: hitsC, edges: edgesC, shade: shadeC, cloud: cloudC, loose: looseC, tickPos: tickPosC, tickNames: tickNamesC,
    canvasTop: 1740, canvasH: 741, top: 1750, base: 2362, y0: 2357, unit: 83.2,
    arrows: [[1302, 7.25, 1381, 6.61], [1504, 6.66, 1418, 6.09]] });

inset({ line: qqLineA, tail: qqTailA, yTicks: [0, 2, 4, 6], left: 110, right: 400, top: 51, bottom: 318, x0: 164, axisRight: 379, y0: 264.3, axisTop: 52, xUnit: 42, yUnit: 28.67 });
inset({ line: qqLineB, tail: qqTailB, yTicks: [0, 2, 4, 6], left: 110, right: 402, top: 892, bottom: 1158, x0: 164, axisRight: 379, y0: 1103.9, axisTop: 893, xUnit: 42, yUnit: 29 });
inset({ line: qqLineC, tail: qqTailC, yTicks: [0, 1, 2, 3, 4, 5, 6], left: 105, right: 387, top: 1750, bottom: 2016, x0: 155.6, axisRight: 370, y0: 1962.5, axisTop: 1751, xUnit: 41.9, yUnit: 30.7 });

addText('title', 'Fiber percentage', 'left:602px;top:-5px');
addText('title', 'Plant height', 'left:647px;top:832px');
addText('title', 'Technical length', 'left:606px;top:1691px');
addText('letter', 'a', 'top:-4px');
addText('letter', 'b', 'top:833px');
addText('letter', 'c', 'top:1682px');
addText('ylab', LOGP, 'left:24px;top:361px');
addText('ylab', LOGP, 'left:24px;top:1200px');
addText('ylab', LOGP, 'left:24px;top:2056px');
addText('qq', 'Expected &nbsp;' + LOGP, 'left:272px;top:297px');
addText('qq', 'Expected &nbsp;' + LOGP, 'left:272px;top:1137px');
addText('qq', 'Expected &nbsp;' + LOGP, 'left:263px;top:1995px');
addText('qq v', 'Observed &nbsp;' + LOGP, 'left:134px;top:160px');
addText('qq v', 'Observed &nbsp;' + LOGP, 'left:134px;top:998px');
addText('qq v', 'Observed &nbsp;' + LOGP, 'left:125px;top:1857px');
</script>
</body>
</html>
